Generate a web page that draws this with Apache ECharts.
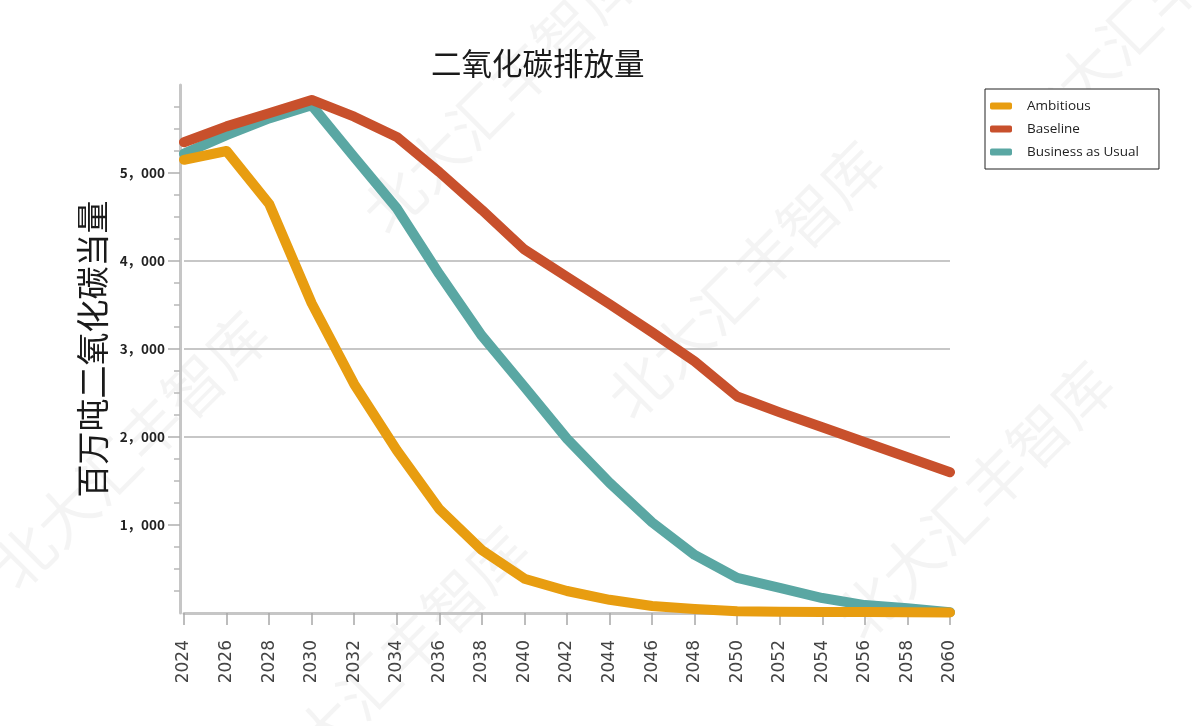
<!DOCTYPE html>
<html>
<head>
<meta charset="utf-8">
<script src="https://cdn.jsdelivr.net/npm/echarts@6/dist/echarts.min.js"></script>
<style>
  html, body { margin: 0; padding: 0; background: #ffffff; }
  #chart { width: 1198px; height: 726px; }
</style>
</head>
<body>
<div id="chart"></div>
<script>
// Emission pathways, million tonnes CO2-equivalent, every second year
const years = ['2024', '2026', '2028', '2030', '2032', '2034', '2036', '2038', '2040', '2042',
               '2044', '2046', '2048', '2050', '2052', '2054', '2056', '2058', '2060'];
const ambitious = [5150, 5250, 4650, 3520, 2600, 1850, 1180, 715, 390, 250,
                   150, 80, 45, 20, 15, 12, 10, 8, 5];
const baseline = [5350, 5530, 5680, 5830, 5640, 5410, 5010, 4580, 4130, 3820,
                  3510, 3190, 2860, 2460, 2280, 2110, 1940, 1770, 1600];
const businessAsUsual = [5220, 5430, 5620, 5770, 5180, 4600, 3850, 3150, 2570, 1980,
                         1480, 1030, 660, 400, 285, 170, 90, 55, 10];

const seriesNames = ['Ambitious', 'Baseline', 'Business as Usual'];
const seriesColors = { 'Ambitious': '#E89D10', 'Baseline': '#C8502C', 'Business as Usual': '#5AA7A3' };
const yTickValues = [1000, 2000, 3000, 4000, 5000];

const chart = echarts.init(document.getElementById('chart'), null, { renderer: 'canvas' });

function lineSeries(name, values) {
  return {
    name: name,
    type: 'line',
    data: values,
    symbol: 'none',
    smooth: false,
    color: seriesColors[name],
    lineStyle: { width: 10, color: seriesColors[name], cap: 'round', join: 'round' },
    emphasis: { disabled: true }
  };
}

// faint diagonal brand marks in the background
const markText = '北大汇丰智库';
const markSpots = [[500, 95], [745, 280], [975, 500], [130, 450], [390, 665], [1150, 10]];
const marks = markSpots.map(function (p) {
  return {
    type: 'text',
    x: p[0], y: p[1],
    rotation: Math.PI / 4,
    z: -10,
    silent: true,
    style: {
      text: markText,
      fontSize: 60,
      fontFamily: 'Noto Sans CJK SC',
      fill: 'rgba(0,0,0,0.045)',
      align: 'center',
      verticalAlign: 'middle'
    }
  };
});

chart.setOption({
  animation: false,
  backgroundColor: '#ffffff',
  title: {
    text: '二氧化碳排放量',
    left: 426,
    top: 43,
    textStyle: { fontSize: 30.5, fontWeight: 'normal', color: '#1a1a1a', fontFamily: 'Noto Sans CJK SC' }
  },
  legend: {
    data: seriesNames,
    orient: 'vertical',
    left: 985,
    top: 89,
    padding: [8, 20, 8, 5],
    itemGap: 5,
    itemWidth: 22,
    itemHeight: 7,
    icon: 'roundRect',
    borderColor: '#222',
    borderWidth: 1,
    backgroundColor: '#fff',
    textStyle: { fontSize: 13.5, lineHeight: 18, color: '#222', fontFamily: 'Open Sans', padding: [0, 0, 0, 10] }
  },
  graphic: marks,
  grid: { left: 184, right: 248, top: 85, bottom: 113, containLabel: false },
  xAxis: {
    type: 'category',
    data: years,
    boundaryGap: false,
    axisLine: { show: true, lineStyle: { color: '#c6c6c6', width: 3 } },
    axisTick: { show: true, alignWithLabel: true, length: 12, lineStyle: { color: '#a8a8a8', width: 1.5 } },
    axisLabel: {
      rotate: 90, interval: 0, margin: 27,
      fontSize: 17, color: '#444', fontFamily: 'DejaVu Sans'
    },
    splitLine: { show: false }
  },
  yAxis: {
    type: 'value',
    min: 0,
    max: 6000,
    interval: 1000,
    offset: 4,
    name: '百万吨二氧化碳当量',
    nameLocation: 'middle',
    nameGap: 64,
    nameTextStyle: { fontSize: 33, color: '#1a1a1a', fontFamily: 'Noto Sans CJK SC' },
    axisLine: { show: true, lineStyle: { color: '#c6c6c6', width: 3 } },
    axisTick: { show: true, length: 12, customValues: yTickValues, lineStyle: { color: '#b0b0b0', width: 1.5 } },
    minorTick: { show: true, splitNumber: 4, length: 6, lineStyle: { color: '#b8b8b8', width: 1.5 } },
    axisLabel: {
      margin: 15,
      customValues: yTickValues,
      fontSize: 13.5, fontWeight: 'bold', color: '#222', fontFamily: 'Noto Sans CJK SC',
      formatter: function (v) { return (v / 1000) + '，000'; }
    },
    splitLine: { show: true, showMinLine: false, showMaxLine: false, lineStyle: { color: '#b4b4b4', width: 1.5 } }
  },
  series: [
    lineSeries('Business as Usual', businessAsUsual),
    lineSeries('Baseline', baseline),
    lineSeries('Ambitious', ambitious)
  ]
});
</script>
</body>
</html>
